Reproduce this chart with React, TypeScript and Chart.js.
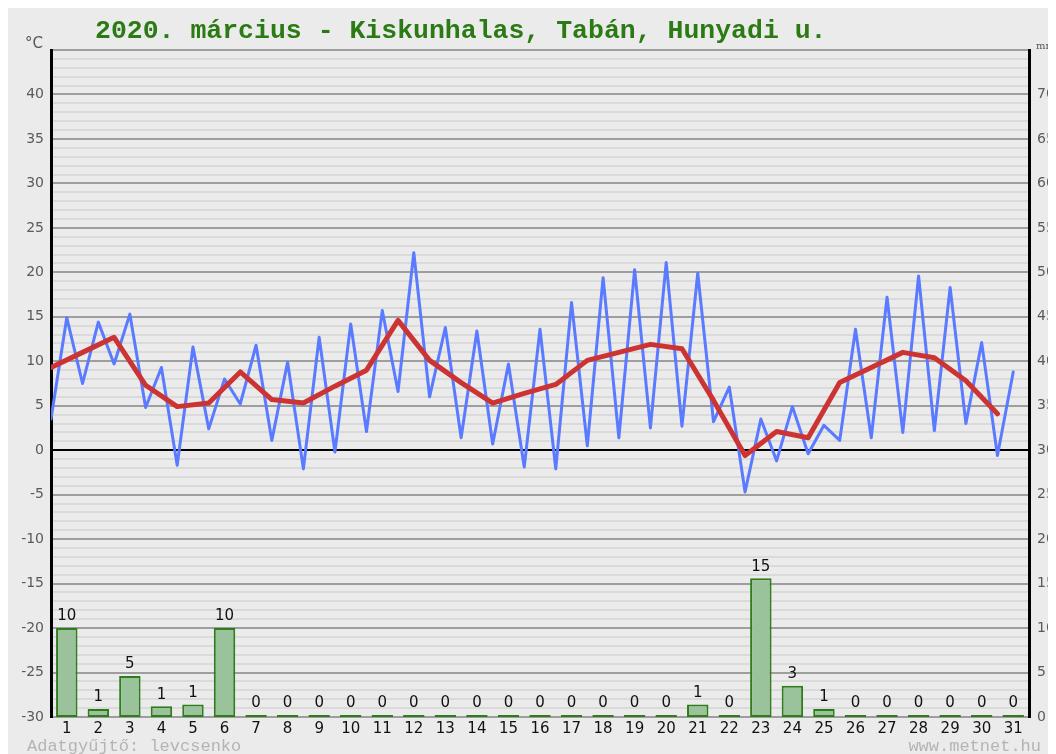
import React, { useEffect, useRef } from 'react';
import { Chart, registerables } from 'chart.js';

Chart.register(...registerables);

const chartTitle = '2020. március - Kiskunhalas, Tabán, Hunyadi u.';
const footerLeft = 'Adatgyűjtő: levcsenko';
const footerRight = 'www.metnet.hu';

const days = ['1','2','3','4','5','6','7','8','9','10','11','12','13','14','15','16','17','18','19','20','21','22','23','24','25','26','27','28','29','30','31'];

// half-day temperature readings (°C), two per day
const tempHalfDay = [
  3.5, 14.9, 7.5, 14.4, 9.7, 15.3, 4.8, 9.3, -1.7, 11.6,
  2.4, 8.0, 5.2, 11.8, 1.1, 9.9, -2.1, 12.7, -0.2, 14.2,
  2.1, 15.7, 6.6, 22.2, 6.0, 13.8, 1.4, 13.4, 0.7, 9.7,
  -1.9, 13.6, -2.1, 16.6, 0.5, 19.4, 1.4, 20.3, 2.5, 21.1,
  2.7, 19.9, 3.2, 7.1, -4.7, 3.5, -1.2, 4.9, -0.4, 2.8,
  1.1, 13.6, 1.4, 17.2, 2.0, 19.6, 2.2, 18.3, 3.0, 12.1,
  -0.6, 8.8
];

// daily mean temperature (°C)
const tempDailyMean = [
  9.3, 11.0, 12.7, 7.3, 4.9, 5.3, 8.8, 5.7, 5.3, 7.2,
  9.0, 14.6, 10.1, 7.6, 5.3, 6.4, 7.4, 10.1, 11.0, 11.9,
  11.4, 5.6, -0.6, 2.1, 1.4, 7.6, 9.3, 11.0, 10.4, 7.8,
  4.1
];

// daily precipitation (mm)
const precip = [
  10, 0.9, 4.6, 1.2, 1.4, 10, 0, 0.2, 0, 0.2,
  0, 0, 0, 0, 0, 0, 0, 0, 0, 0,
  1.4, 0, 15.6, 3.5, 0.9, 0, 0, 0, 0, 0,
  0
];
const precipLabels = [
  '10','1','5','1','1','10','0','0','0','0',
  '0','0','0','0','0','0','0','0','0','0',
  '1','0','15','3','1','0','0','0','0','0',
  '0'
];

const BG = '#ebebeb';

export default function App() {
  const ref = useRef<HTMLCanvasElement | null>(null);

  useEffect(() => {
    const canvas = ref.current;
    if (!canvas) return;

    const bgPlugin = {
      id: 'bg',
      beforeDraw(chart: any) {
        const ctx = chart.ctx;
        ctx.save();
        ctx.fillStyle = BG;
        ctx.fillRect(0, 0, chart.width, chart.height);
        ctx.restore();
      },
    };

    const textPlugin = {
      id: 'texts',
      afterDatasetsDraw(chart: any) {
        const ctx = chart.ctx;
        const meta = chart.getDatasetMeta(2);
        ctx.save();
        ctx.fillStyle = '#111';
        ctx.font = '15px "DejaVu Sans"';
        ctx.textAlign = 'center';
        ctx.textBaseline = 'bottom';
        meta.data.forEach((el: any, i: number) => {
          ctx.fillText(precipLabels[i], el.x, el.y - 4);
        });
        ctx.restore();
      },
      afterDraw(chart: any) {
        const ctx = chart.ctx;
        const area = chart.chartArea;
        ctx.save();
        // title
        ctx.fillStyle = '#2b7a14';
        ctx.font = 'bold 26.5px "Liberation Mono"';
        ctx.textAlign = 'left';
        ctx.textBaseline = 'alphabetic';
        ctx.fillText(chartTitle, 87, 30);
        // unit labels
        ctx.fillStyle = '#555';
        ctx.font = '15px "DejaVu Sans"';
        ctx.textAlign = 'right';
        ctx.fillText('°C', area.left - 8, area.top - 2);
        ctx.font = '10px "DejaVu Serif"';
        ctx.textAlign = 'left';
        ctx.fillText('mm', area.right + 7, area.top - 1);
        // footer
        ctx.fillStyle = '#b4b4b4';
        ctx.font = '17px "Liberation Mono"';
        ctx.textAlign = 'left';
        ctx.fillText(footerLeft, 19, 743);
        ctx.textAlign = 'right';
        ctx.fillText(footerRight, 1033, 743);
        ctx.restore();
      },
    };

    const chart = new Chart(canvas, {
      type: 'bar',
      data: {
        datasets: [
          {
            type: 'line',
            label: 'Átlag',
            data: tempDailyMean.map((v, i) => ({ x: i, y: v })),
            borderColor: '#cc3434',
            borderWidth: 5,
            borderJoinStyle: 'round',
            borderCapStyle: 'round',
            pointRadius: 0,
            tension: 0,
            yAxisID: 'y',
            order: 0,
          } as any,
          {
            type: 'line',
            label: 'Hőmérséklet',
            data: tempHalfDay.map((v, i) => ({ x: i / 2, y: v })),
            borderColor: '#5a7aff',
            borderWidth: 3,
            borderJoinStyle: 'round',
            borderCapStyle: 'round',
            pointRadius: 0,
            tension: 0,
            yAxisID: 'y',
            order: 1,
          } as any,
          {
            type: 'bar',
            label: 'Csapadék',
            data: precip.map((v, i) => ({ x: i + 0.5, y: v })),
            backgroundColor: '#9bc39b',
            borderColor: '#2e7d1a',
            borderWidth: 2,
            borderSkipped: false,
            minBarLength: 2,
            barPercentage: 0.68,
            categoryPercentage: 1,
            yAxisID: 'y2',
            order: 2,
          } as any,
        ],
      },
      options: {
        responsive: false,
        animation: false,
        layout: { padding: { top: 42, left: 0, right: 0, bottom: 0 } },
        plugins: {
          legend: { display: false },
          tooltip: { enabled: false },
          title: { display: false },
        },
        scales: {
          x: {
            type: 'linear',
            min: 0,
            max: 31,
            offset: false,
            grid: { display: false, drawTicks: false },
            border: { display: false },
            afterBuildTicks(scale: any) {
              scale.ticks = days.map((_, i) => ({ value: i + 0.5 }));
            },
            afterFit(scale: any) {
              scale.height = 37;
            },
            ticks: {
              autoSkip: false,
              maxRotation: 0,
              padding: 3,
              color: '#111',
              font: { family: 'DejaVu Sans', size: 15 },
              callback: (_v: any, i: number) => days[i],
            },
          },
          y: {
            type: 'linear',
            position: 'left',
            min: -30,
            max: 45,
            afterFit(scale: any) {
              scale.width = 43;
            },
            border: { color: '#000', width: 3 },
            grid: {
              drawTicks: false,
              color: (c: any) => {
                const v = c.tick && c.tick.value;
                if (v === 0) return '#000';
                if (v % 5 === 0) return '#9e9e9e';
                return '#dadada';
              },
              lineWidth: 2,
            },
            ticks: {
              stepSize: 1,
              autoSkip: false,
              padding: 7,
              color: '#5a5a5a',
              font: { family: 'DejaVu Sans', size: 14 },
              callback: (v: any) => (Number(v) % 5 === 0 && Number(v) !== 45 ? String(v) : ''),
            },
          },
          y2: {
            type: 'linear',
            position: 'right',
            min: 0,
            max: 75,
            afterFit(scale: any) {
              scale.width = 27;
            },
            border: { color: '#000', width: 3 },
            grid: { display: false, drawTicks: false },
            ticks: {
              stepSize: 1,
              autoSkip: false,
              padding: 8,
              color: '#5a5a5a',
              font: { family: 'DejaVu Sans', size: 14 },
              callback: (v: any) => (Number(v) % 5 === 0 && Number(v) !== 75 ? String(v) : ''),
            },
          },
        },
      } as any,
      plugins: [bgPlugin, textPlugin],
    });

    return () => chart.destroy();
  }, []);

  return <canvas ref={ref} width={1048} height={746} style={{ display: 'block' }} />;
}
